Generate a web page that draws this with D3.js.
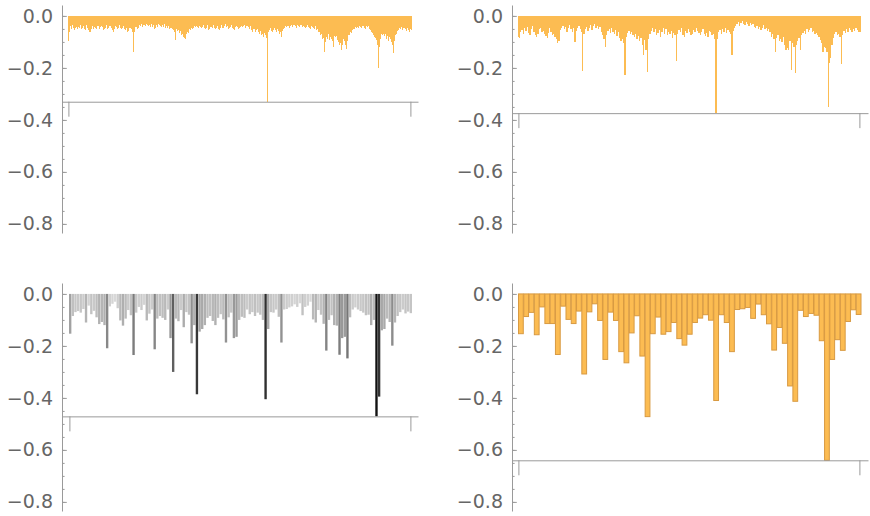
<!DOCTYPE html>
<html><head><meta charset="utf-8">
<script src="https://cdn.jsdelivr.net/npm/d3@7"></script>
<style>body{margin:0;background:#fff}svg{display:block}</style>
</head><body><svg id="c" width="870" height="516"></svg>
<script>
// top-left series (finest resolution, 520 bars)
const seriesA = [
-0.095,-0.072,-0.060,-0.045,-0.038,-0.052,-0.042,-0.035,-0.048,-0.040,-0.055,-0.046,-0.038,-0.044,-0.050,-0.036,-0.042,-0.048,-0.040,-0.034,
-0.045,-0.052,-0.047,-0.040,-0.038,-0.050,-0.055,-0.044,-0.036,-0.042,-0.048,-0.053,-0.060,-0.058,-0.062,-0.050,-0.045,-0.040,-0.052,-0.048,
-0.042,-0.036,-0.045,-0.050,-0.038,-0.032,-0.040,-0.046,-0.052,-0.044,-0.038,-0.035,-0.042,-0.048,-0.055,-0.050,-0.045,-0.040,-0.036,-0.044,
-0.050,-0.046,-0.040,-0.034,-0.038,-0.045,-0.042,-0.048,-0.055,-0.060,-0.052,-0.046,-0.040,-0.036,-0.042,-0.050,-0.045,-0.038,-0.035,-0.040,
-0.046,-0.052,-0.048,-0.042,-0.038,-0.044,-0.050,-0.055,-0.048,-0.042,-0.060,-0.058,-0.052,-0.045,-0.040,-0.046,-0.050,-0.055,-0.062,-0.137,
-0.060,-0.048,-0.042,-0.038,-0.044,-0.050,-0.046,-0.040,-0.035,-0.032,-0.038,-0.030,-0.036,-0.042,-0.034,-0.028,-0.035,-0.040,-0.032,-0.026,
-0.034,-0.038,-0.030,-0.036,-0.042,-0.038,-0.032,-0.040,-0.044,-0.036,-0.048,-0.052,-0.046,-0.040,-0.035,-0.042,-0.038,-0.032,-0.036,-0.030,
-0.038,-0.044,-0.040,-0.035,-0.042,-0.036,-0.030,-0.038,-0.045,-0.040,-0.046,-0.042,-0.038,-0.044,-0.050,-0.046,-0.040,-0.048,-0.052,-0.045,
-0.055,-0.062,-0.092,-0.060,-0.052,-0.058,-0.048,-0.055,-0.062,-0.066,-0.058,-0.070,-0.075,-0.068,-0.080,-0.072,-0.085,-0.090,-0.078,-0.070,
-0.062,-0.058,-0.065,-0.052,-0.048,-0.055,-0.045,-0.042,-0.050,-0.040,-0.046,-0.038,-0.044,-0.036,-0.040,-0.034,-0.042,-0.038,-0.045,-0.040,
-0.036,-0.042,-0.048,-0.044,-0.038,-0.035,-0.040,-0.046,-0.050,-0.045,-0.040,-0.036,-0.048,-0.055,-0.050,-0.044,-0.038,-0.042,-0.046,-0.040,
-0.035,-0.040,-0.045,-0.052,-0.048,-0.042,-0.038,-0.044,-0.050,-0.056,-0.046,-0.040,-0.036,-0.042,-0.048,-0.045,-0.040,-0.036,-0.032,-0.038,
-0.044,-0.040,-0.046,-0.052,-0.048,-0.042,-0.038,-0.035,-0.040,-0.045,-0.050,-0.055,-0.048,-0.044,-0.040,-0.036,-0.042,-0.046,-0.052,-0.048,
-0.042,-0.038,-0.034,-0.040,-0.044,-0.038,-0.032,-0.036,-0.042,-0.046,-0.040,-0.035,-0.038,-0.044,-0.050,-0.046,-0.040,-0.048,-0.055,-0.060,
-0.052,-0.046,-0.050,-0.058,-0.062,-0.055,-0.048,-0.052,-0.060,-0.066,-0.070,-0.058,-0.062,-0.072,-0.068,-0.080,-0.075,-0.065,-0.070,-0.072,
-0.085,-0.330,-0.090,-0.062,-0.055,-0.050,-0.046,-0.052,-0.058,-0.062,-0.055,-0.048,-0.045,-0.050,-0.056,-0.060,-0.052,-0.046,-0.058,-0.065,
-0.070,-0.062,-0.068,-0.080,-0.058,-0.050,-0.045,-0.042,-0.048,-0.040,-0.036,-0.042,-0.038,-0.034,-0.040,-0.045,-0.038,-0.032,-0.036,-0.042,
-0.038,-0.034,-0.030,-0.036,-0.040,-0.046,-0.040,-0.035,-0.032,-0.038,-0.042,-0.036,-0.030,-0.034,-0.040,-0.044,-0.038,-0.035,-0.042,-0.048,
-0.044,-0.040,-0.036,-0.042,-0.038,-0.046,-0.050,-0.045,-0.040,-0.036,-0.042,-0.048,-0.052,-0.046,-0.040,-0.050,-0.056,-0.052,-0.060,-0.058,
-0.062,-0.068,-0.075,-0.070,-0.082,-0.090,-0.085,-0.095,-0.137,-0.100,-0.080,-0.072,-0.088,-0.078,-0.070,-0.085,-0.092,-0.080,-0.075,-0.090,
-0.098,-0.118,-0.088,-0.076,-0.082,-0.070,-0.078,-0.092,-0.085,-0.100,-0.110,-0.095,-0.105,-0.120,-0.130,-0.112,-0.090,-0.080,-0.095,-0.105,
-0.110,-0.128,-0.098,-0.085,-0.075,-0.068,-0.072,-0.062,-0.058,-0.066,-0.055,-0.050,-0.046,-0.052,-0.044,-0.040,-0.048,-0.042,-0.038,-0.045,
-0.040,-0.036,-0.042,-0.048,-0.044,-0.038,-0.034,-0.040,-0.046,-0.050,-0.044,-0.038,-0.042,-0.036,-0.040,-0.048,-0.052,-0.046,-0.055,-0.060,
-0.058,-0.066,-0.072,-0.068,-0.080,-0.085,-0.078,-0.092,-0.110,-0.201,-0.095,-0.120,-0.088,-0.075,-0.068,-0.072,-0.062,-0.070,-0.078,-0.065,
-0.070,-0.082,-0.090,-0.078,-0.085,-0.095,-0.080,-0.072,-0.088,-0.100,-0.092,-0.110,-0.141,-0.098,-0.085,-0.075,-0.068,-0.062,-0.058,-0.055,
-0.050,-0.046,-0.052,-0.048,-0.044,-0.050,-0.055,-0.048,-0.042,-0.046,-0.052,-0.058,-0.050,-0.045,-0.048,-0.055,-0.060,-0.052,-0.048,-0.056
];
// top-right series (260 bars)
const seriesB = [
-0.080,-0.085,-0.062,-0.055,-0.070,-0.048,-0.058,-0.042,-0.065,-0.072,-0.050,-0.038,-0.060,-0.075,-0.082,-0.068,-0.052,-0.045,-0.062,-0.058,
-0.070,-0.078,-0.085,-0.066,-0.048,-0.060,-0.072,-0.068,-0.080,-0.090,-0.105,-0.098,-0.055,-0.045,-0.038,-0.050,-0.042,-0.060,-0.048,-0.035,
-0.052,-0.060,-0.045,-0.100,-0.058,-0.046,-0.040,-0.052,-0.062,-0.212,-0.070,-0.050,-0.044,-0.058,-0.048,-0.036,-0.055,-0.040,-0.030,-0.045,
-0.038,-0.050,-0.042,-0.062,-0.075,-0.090,-0.118,-0.072,-0.058,-0.050,-0.065,-0.048,-0.060,-0.070,-0.055,-0.078,-0.062,-0.085,-0.095,-0.088,
-0.105,-0.227,-0.080,-0.066,-0.058,-0.070,-0.062,-0.075,-0.082,-0.068,-0.090,-0.078,-0.098,-0.085,-0.110,-0.150,-0.092,-0.130,-0.215,-0.088,
-0.070,-0.058,-0.048,-0.062,-0.050,-0.072,-0.066,-0.055,-0.080,-0.060,-0.045,-0.068,-0.052,-0.075,-0.062,-0.070,-0.058,-0.085,-0.065,-0.072,
-0.172,-0.068,-0.055,-0.060,-0.048,-0.072,-0.080,-0.058,-0.065,-0.050,-0.062,-0.075,-0.070,-0.055,-0.062,-0.048,-0.058,-0.066,-0.072,-0.060,
-0.052,-0.070,-0.078,-0.065,-0.082,-0.058,-0.062,-0.075,-0.068,-0.090,-0.374,-0.088,-0.062,-0.055,-0.070,-0.050,-0.060,-0.048,-0.065,-0.056,
-0.062,-0.070,-0.150,-0.058,-0.045,-0.040,-0.032,-0.025,-0.038,-0.028,-0.020,-0.030,-0.035,-0.024,-0.032,-0.040,-0.028,-0.036,-0.030,-0.042,
-0.045,-0.038,-0.050,-0.042,-0.055,-0.048,-0.035,-0.052,-0.045,-0.058,-0.050,-0.062,-0.080,-0.070,-0.090,-0.137,-0.085,-0.075,-0.095,-0.088,
-0.100,-0.082,-0.110,-0.130,-0.125,-0.132,-0.095,-0.208,-0.105,-0.118,-0.218,-0.110,-0.098,-0.085,-0.130,-0.072,-0.065,-0.058,-0.068,-0.052,
-0.060,-0.055,-0.048,-0.062,-0.058,-0.070,-0.065,-0.075,-0.080,-0.092,-0.105,-0.137,-0.118,-0.125,-0.140,-0.351,-0.180,-0.160,-0.110,-0.085,
-0.070,-0.062,-0.075,-0.068,-0.080,-0.185,-0.072,-0.058,-0.065,-0.052,-0.060,-0.048,-0.055,-0.062,-0.050,-0.058,-0.045,-0.055,-0.062,-0.060
];
// bottom-left series (130 bars, grey-shaded by depth)
const seriesC = [
-0.153,-0.085,-0.070,-0.066,-0.072,-0.058,-0.110,-0.045,-0.078,-0.065,-0.090,-0.116,-0.108,-0.120,-0.209,-0.048,-0.038,-0.030,-0.055,-0.102,
-0.122,-0.095,-0.062,-0.082,-0.235,-0.072,-0.050,-0.062,-0.042,-0.102,-0.076,-0.060,-0.213,-0.095,-0.085,-0.092,-0.100,-0.060,-0.170,-0.300,
-0.095,-0.105,-0.062,-0.128,-0.070,-0.080,-0.190,-0.120,-0.386,-0.145,-0.135,-0.120,-0.092,-0.085,-0.104,-0.120,-0.092,-0.078,-0.098,-0.187,
-0.090,-0.072,-0.170,-0.165,-0.100,-0.088,-0.092,-0.060,-0.078,-0.070,-0.085,-0.072,-0.080,-0.100,-0.405,-0.135,-0.070,-0.072,-0.060,-0.088,
-0.187,-0.060,-0.058,-0.052,-0.048,-0.040,-0.050,-0.036,-0.082,-0.050,-0.045,-0.030,-0.098,-0.110,-0.062,-0.080,-0.115,-0.218,-0.100,-0.082,
-0.120,-0.122,-0.234,-0.170,-0.165,-0.248,-0.090,-0.060,-0.052,-0.060,-0.066,-0.072,-0.082,-0.080,-0.120,-0.100,-0.471,-0.395,-0.140,-0.135,
-0.095,-0.108,-0.199,-0.110,-0.085,-0.070,-0.060,-0.075,-0.068,-0.074
];
// bottom-right series (65 bars)
const seriesD = [
-0.153,-0.087,-0.071,-0.157,-0.050,-0.114,-0.114,-0.233,-0.047,-0.098,
-0.114,-0.066,-0.308,-0.069,-0.038,-0.102,-0.252,-0.070,-0.102,-0.222,
-0.265,-0.150,-0.084,-0.239,-0.472,-0.153,-0.089,-0.155,-0.145,-0.110,
-0.172,-0.197,-0.155,-0.110,-0.093,-0.080,-0.101,-0.410,-0.080,-0.110,
-0.222,-0.060,-0.057,-0.052,-0.094,-0.039,-0.080,-0.115,-0.216,-0.129,
-0.190,-0.354,-0.413,-0.063,-0.087,-0.075,-0.082,-0.180,-0.640,-0.252,
-0.176,-0.217,-0.106,-0.061,-0.079
];
const yMajorTicks = [0, -0.2, -0.4, -0.6, -0.8];
const yTickLabels = ["0.0", "\u22120.2", "\u22120.4", "\u22120.6", "\u22120.8"];
const yMinorTicks = [0,-0.05,-0.1,-0.15,-0.2,-0.25,-0.3,-0.35,-0.4,-0.45,-0.5,-0.55,-0.6,-0.65,-0.7,-0.75,-0.8];

const ORANGE = "#fcbc52";
const AXIS = "#9a9a9a";
const svg = d3.select("#c");

const panels = [
  {data: seriesA, ax: 62,  x0: 68,  x1: 412, xEnd: 418, top: 5,   kind: "dense"},
  {data: seriesB, ax: 512, x0: 518, x1: 861, xEnd: 868, top: 5,   kind: "dense"},
  {data: seriesC, ax: 62,  x0: 69,  x1: 412, xEnd: 418, top: 283, kind: "grey"},
  {data: seriesD, ax: 512, x0: 518, x1: 861, xEnd: 868, top: 283, kind: "edged"}
];

panels.forEach(p => {
  const g = svg.append("g");
  const n = p.data.length;
  const y = d3.scaleLinear().domain([0.042, -0.835]).range([p.top, p.top + 228]);
  const x = d3.scaleBand().domain(d3.range(n)).range([p.x0, p.x1])
    .paddingInner(p.kind === "grey" ? 0.1 : 0).paddingOuter(0);
  const bw = x.bandwidth();
  const minV = d3.min(p.data);

  const bars = g.append("g");
  if (p.kind === "dense") {
    bars.attr("shape-rendering", "crispEdges")
      .selectAll("rect").data(p.data).join("rect")
      .attr("x", (d, i) => Math.floor(x(i)))
      .attr("width", (d, i) => Math.max(1, Math.floor(x(i) + bw) - Math.floor(x(i))))
      .attr("y", y(0))
      .attr("height", d => y(d) - y(0))
      .attr("fill", ORANGE);
  } else if (p.kind === "grey") {
    const shade = d3.scaleLinear().domain([0, minV]).range(["#e6e6e6", "#121212"]).clamp(true);
    bars.selectAll("rect").data(p.data).join("rect")
      .attr("x", (d, i) => x(i))
      .attr("width", bw)
      .attr("y", y(0))
      .attr("height", d => y(d) - y(0))
      .attr("fill", d => shade(d));
  } else {
    bars.selectAll("rect").data(p.data).join("rect")
      .attr("x", (d, i) => x(i) + 0.5)
      .attr("width", bw - 0.5)
      .attr("y", y(0))
      .attr("height", d => y(d) - y(0))
      .attr("fill", ORANGE)
      .attr("stroke", "#d89a42")
      .attr("stroke-width", 1);
  }

  // y axis: minor ticks + axis line
  g.append("g").attr("transform", `translate(${p.ax},0)`)
    .call(d3.axisLeft(y).tickValues(yMinorTicks).tickSize(-2.6).tickSizeOuter(0).tickFormat(""))
    .call(s => s.selectAll("line").attr("stroke", AXIS))
    .call(s => s.select(".domain").attr("stroke", AXIS));
  // y axis: major ticks with labels
  g.append("g").attr("transform", `translate(${p.ax},0)`)
    .call(d3.axisLeft(y).tickValues(yMajorTicks).tickSize(-4.8).tickSizeOuter(0).tickPadding(9)
      .tickFormat((d, i) => yTickLabels[i]))
    .call(s => s.select(".domain").remove())
    .call(s => s.selectAll("line").attr("stroke", AXIS))
    .call(s => s.selectAll("text").attr("fill", "#666").attr("font-size", 19)
      .attr("font-family", "'DejaVu Sans', sans-serif"));

  // x axis drawn at the data minimum
  const xi = d3.scaleLinear().domain([0, n]).range([p.x0, p.x1]);
  const xa = xi.copy().domain([xi.invert(p.ax), xi.invert(p.xEnd)]).range([p.ax, p.xEnd]);
  g.append("g").attr("transform", `translate(0,${y(minV)})`)
    .call(d3.axisBottom(xa).tickValues([xi.invert(p.x0 + 0.4), xi.invert(p.x1 - 1.6)])
      .tickSize(15).tickSizeOuter(0).tickFormat(""))
    .call(s => s.selectAll("line").attr("stroke", AXIS))
    .call(s => s.select(".domain").attr("stroke", AXIS));
});
</script>
</body></html>
